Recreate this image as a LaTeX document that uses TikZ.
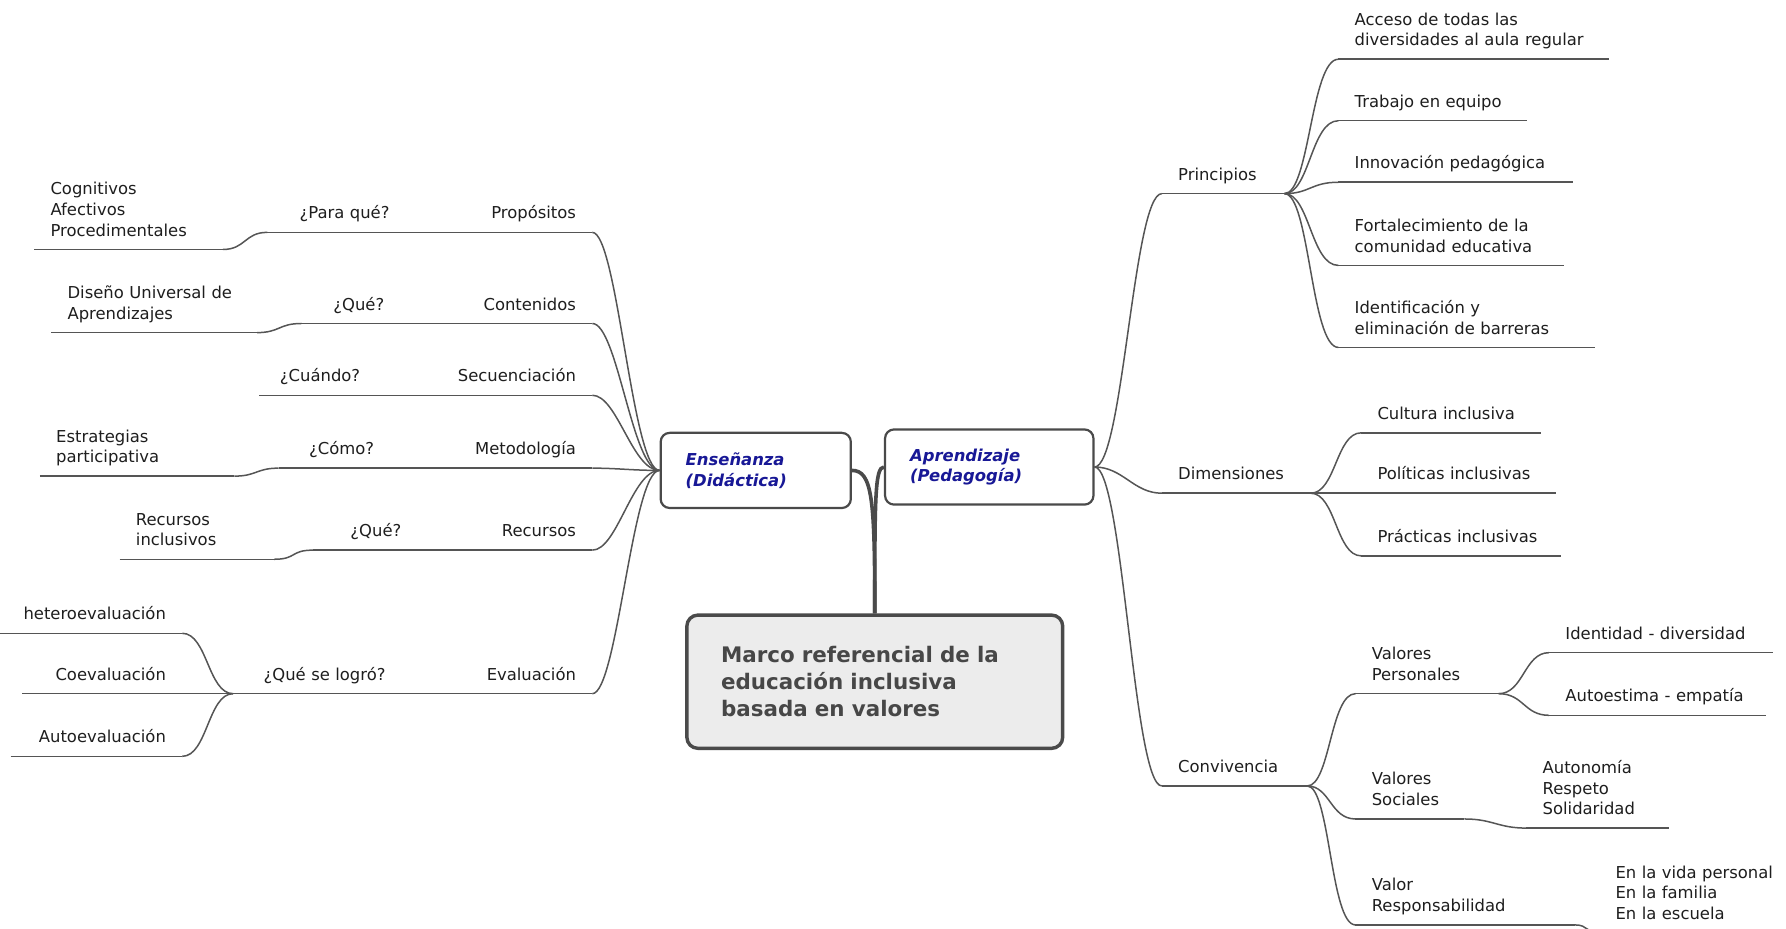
\documentclass[tikz,border=0pt]{standalone}
\usepackage{fontspec}
\setmainfont{DejaVu Sans}
\usepackage{tikz}
\definecolor{linec}{HTML}{555555}
\definecolor{textc}{HTML}{1E1E1E}
\definecolor{labelc}{RGB}{24,24,150}
\definecolor{boxline}{HTML}{4A4A4A}
\definecolor{marcofill}{HTML}{ECECEC}
\definecolor{marcotext}{HTML}{474747}
\newcommand{\mmfont}{\fontsize{8.2}{10.3}\selectfont}

\begin{document}
\begin{tikzpicture}[x=0.02cm, y=-0.02cm,
    topic/.style={font=\mmfont, text=textc, inner xsep=0.28cm, inner ysep=3.4pt, execute at end node=\strut},
    flushr/.style={topic, anchor=south east, align=right},
    flushl/.style={topic, anchor=south west, align=left},
    centred/.style={topic, anchor=south, align=center},
    branch/.style={draw=linec, line width=0.75pt},
    trunk/.style={draw=boxline, line width=1.8pt},
    idea/.style={draw=boxline, line width=1.1pt, rounded corners=4.5pt, fill=white, minimum height=1.32cm,
      inner xsep=0.44cm, align=left, font=\mmfont\bfseries\itshape, text=labelc},
    marco/.style={draw=boxline, line width=1.7pt, rounded corners=5.5pt, fill=marcofill, minimum width=6.6cm,
      minimum height=2.34cm, text width=5.4cm, inner xsep=0.6cm, align=left,
      font=\fontsize{10.7}{13.4}\selectfont\bfseries, text=marcotext}]
  \useasboundingbox (0,0) rectangle (1568,815);
  % centre
  \node[marco] (marco) at (768,598.5) {Marco referencial de la\\educación inclusiva\\basada en valores};
  \node[idea, minimum width=3.34cm, text width=2.46cm] (ense) at (663.5,413) {Enseñanza\\(Didáctica)};
  \node[idea, minimum width=3.66cm, text width=2.78cm] (apre) at (868.5,410) {Aprendizaje\\(Pedagogía)};
  % Enseñanza branch
  \node[flushr, text width=1.84cm] (prop) at (520,204) {Propósitos};
  \node[flushr, text width=1.84cm] (cont) at (520,284) {Contenidos};
  \node[flushr, text width=2.44cm] (secu) at (520,347) {Secuenciación};
  \node[flushr, text width=1.94cm] (meto) at (520,411) {Metodología};
  \node[flushr, text width=1.64cm] (recu) at (520,483) {Recursos};
  \node[flushr, text width=1.84cm] (eval) at (520,609) {Evaluación};
  % questions
  \node[centred, text width=2.14cm] (para) at (302.5,204) {¿Para qué?};
  \node[centred, text width=1.44cm] (que1) at (315,284) {¿Qué?};
  \node[centred, text width=1.56cm] (cuan) at (281,347) {¿Cuándo?};
  \node[centred, text width=1.64cm] (como) at (300,411) {¿Cómo?};
  \node[centred, text width=1.64cm] (que2) at (330,483) {¿Qué?};
  \node[centred, text width=2.64cm] (logr) at (285,609) {¿Qué se logró?};
  % answers
  \node[flushl, text width=2.74cm] (cogn) at (30,219) {Cognitivos\\Afectivos\\Procedimentales};
  \node[flushl, text width=3.04cm] (dise) at (45,292) {Diseño Universal de\\Aprendizajes};
  \node[flushl, text width=2.84cm] (estr) at (35,418) {Estrategias\\participativa};
  \node[flushl, text width=2.14cm] (rinc) at (105,491) {Recursos\\inclusivos};
  \node[flushr, text width=2.84cm] (hete) at (160,556) {heteroevaluación};
  \node[flushr, text width=2.24cm] (coev) at (160,609) {Coevaluación};
  \node[flushr, text width=2.44cm] (autoe) at (160,664) {Autoevaluación};
  % Aprendizaje branch
  \node[flushl, text width=1.58cm] (prin) at (1020,170) {Principios};
  \node[flushl, text width=2.04cm] (dime) at (1020,433) {Dimensiones};
  \node[flushl, text width=1.98cm] (conv) at (1020,690) {Convivencia};
  % principios
  \node[flushl, text width=4.18cm] (acce) at (1175,52) {Acceso de todas las\\diversidades al aula regular};
  \node[flushl, text width=2.74cm] (trab) at (1175,106) {Trabajo en equipo};
  \node[flushl, text width=3.54cm] (inno) at (1175,160) {Innovación pedagógica};
  \node[flushl, text width=3.38cm] (fort) at (1175,233) {Fortalecimiento de la\\comunidad educativa};
  \node[flushl, text width=3.94cm] (iden) at (1175,305) {Identificación y\\eliminación de barreras};
  % dimensiones
  \node[flushl, text width=2.58cm] (cult) at (1195,380) {Cultura inclusiva};
  \node[flushl, text width=2.84cm] (poli) at (1195,433) {Políticas inclusivas};
  \node[flushl, text width=2.94cm] (prac) at (1195,488) {Prácticas inclusivas};
  % convivencia
  \node[flushl, text width=1.94cm] (vper) at (1190,609) {Valores\\Personales};
  \node[flushl, text width=1.34cm] (vsoc) at (1190,719) {Valores\\Sociales};
  \node[flushl, text width=3.28cm] (vres) at (1190,812) {Valor\\Responsabilidad};
  \node[flushl, text width=3.36cm] (divr) at (1360,573) {Identidad - diversidad};
  \node[flushl, text width=3.24cm] (empa) at (1360,628) {Autoestima - empatía};
  \node[flushl, text width=1.94cm] (soli) at (1340,727) {Autonomía\\Respeto\\Solidaridad};
  \node[flushl, text width=3.16cm] (ambi) at (1404,819) {En la vida personal\\En la familia\\En la escuela};
  % underlines
  \foreach \n in {prop,cont,secu,meto,recu,eval,para,que1,cuan,como,que2,logr,cogn,dise,estr,rinc,hete,coev,autoe,
      prin,dime,conv,acce,trab,inno,fort,iden,cult,poli,prac,vper,vsoc,vres,divr,empa,soli,ambi}
    \draw[branch] (\n.south west) -- (\n.south east);
  % trunk
  \draw[trunk] (ense.east) .. controls +(18,0) and +(0,-100) .. (marco.north);
  \draw[trunk] (apre.west) .. controls +(-8,0) and +(0,-100) .. (marco.north);
  % left fan
  \foreach \n in {prop,cont,secu,meto,recu,eval}
    \draw[branch] (ense.west) .. controls +(-24,0) and +(22,0) .. (\n.south east);
  \draw[branch] (prop.south west) -- (para.south east);
  \draw[branch] (cont.south west) -- (que1.south east);
  \draw[branch] (secu.south west) -- (cuan.south east);
  \draw[branch] (meto.south west) -- (como.south east);
  \draw[branch] (recu.south west) -- (que2.south east);
  \draw[branch] (eval.south west) -- (logr.south east);
  \draw[branch] (para.south west) .. controls +(-20,0) and +(20,0) .. (cogn.south east);
  \draw[branch] (que1.south west) .. controls +(-20,0) and +(20,0) .. (dise.south east);
  \draw[branch] (como.south west) .. controls +(-20,0) and +(20,0) .. (estr.south east);
  \draw[branch] (que2.south west) .. controls +(-20,0) and +(20,0) .. (rinc.south east);
  \foreach \n in {hete,coev,autoe}
    \draw[branch] (logr.south west) .. controls +(-22,0) and +(22,0) .. (\n.south east);
  % right fan
  \foreach \n in {prin,dime,conv}
    \draw[branch] (apre.east) .. controls +(25,0) and +(-25,0) .. (\n.south west);
  \foreach \n in {acce,trab,inno,fort,iden}
    \draw[branch] (prin.south east) .. controls +(22,0) and +(-24,0) .. (\n.south west);
  \foreach \n in {cult,poli,prac}
    \draw[branch] (dime.south east) .. controls +(22,0) and +(-22,0) .. (\n.south west);
  \foreach \n in {vper,vsoc,vres}
    \draw[branch] (conv.south east) .. controls +(20,0) and +(-22,0) .. (\n.south west);
  \foreach \n in {divr,empa}
    \draw[branch] (vper.south east) .. controls +(22,0) and +(-22,0) .. (\n.south west);
  \draw[branch] (vsoc.south east) .. controls +(25,0) and +(-25,0) .. (soli.south west);
  \draw[branch] (vres.south east) .. controls +(12,0) and +(-12,0) .. (ambi.south west);
\end{tikzpicture}
\end{document}
